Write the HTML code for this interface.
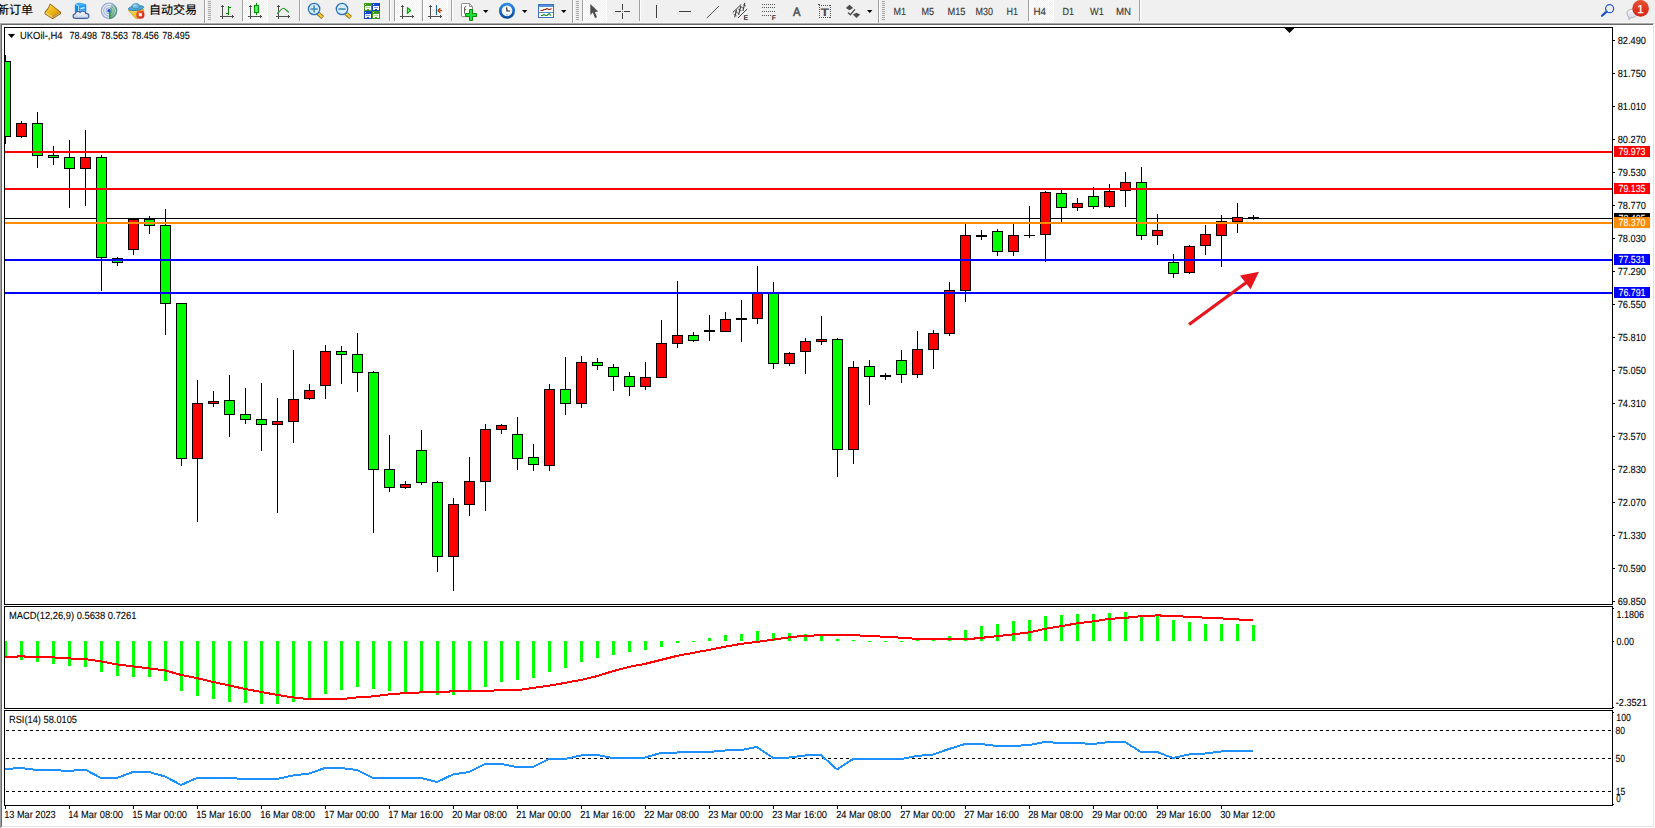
<!DOCTYPE html>
<html><head><meta charset="utf-8"><title>UKOil-,H4</title>
<style>html,body{margin:0;padding:0;background:#fff;overflow:hidden}body{width:1655px;height:828px;position:relative;font-family:"Liberation Sans","Noto Sans CJK SC",sans-serif}</style>
</head><body>
<svg width="1655" height="828" viewBox="0 0 1655 828" text-rendering="geometricPrecision" style="position:absolute;left:0;top:0">
<g shape-rendering="crispEdges">
<rect x="0" y="0" width="1655" height="828" fill="#fff"/>
<rect x="0" y="0" width="1655" height="23" fill="#f0f0f0"/>
<rect x="0" y="22" width="1655" height="1" fill="#f6f6f6"/>
<rect x="0" y="23" width="1655" height="1" fill="#a9a9a9"/>
<rect x="0" y="24" width="1655" height="1" fill="#696969"/>
<rect x="1653" y="24" width="1" height="803" fill="#e3e3e3"/><rect x="1654" y="23" width="1" height="805" fill="#fff"/>
<rect x="2" y="826" width="1652" height="1" fill="#e3e3e3"/>
<rect x="4" y="27" width="1609" height="1" fill="#000"/>
<rect x="4" y="604" width="1609" height="1" fill="#000"/>
<rect x="4" y="27" width="1" height="779" fill="#000"/>
<rect x="1612" y="27" width="1" height="779" fill="#000"/>
<rect x="4" y="606" width="1609" height="1" fill="#000"/>
<rect x="4" y="708" width="1609" height="1" fill="#000"/>
<rect x="4" y="710" width="1609" height="1" fill="#000"/>
<rect x="4" y="805" width="1609" height="1" fill="#000"/>
<rect x="5" y="218" width="1607" height="1" fill="#000"/>
<rect x="1613" y="40" width="2" height="1" fill="#000"/>
<rect x="1613" y="73" width="2" height="1" fill="#000"/>
<rect x="1613" y="106" width="2" height="1" fill="#000"/>
<rect x="1613" y="139" width="2" height="1" fill="#000"/>
<rect x="1613" y="172" width="2" height="1" fill="#000"/>
<rect x="1613" y="205" width="2" height="1" fill="#000"/>
<rect x="1613" y="238" width="2" height="1" fill="#000"/>
<rect x="1613" y="271" width="2" height="1" fill="#000"/>
<rect x="1613" y="304" width="2" height="1" fill="#000"/>
<rect x="1613" y="337" width="2" height="1" fill="#000"/>
<rect x="1613" y="370" width="2" height="1" fill="#000"/>
<rect x="1613" y="403" width="2" height="1" fill="#000"/>
<rect x="1613" y="436" width="2" height="1" fill="#000"/>
<rect x="1613" y="469" width="2" height="1" fill="#000"/>
<rect x="1613" y="502" width="2" height="1" fill="#000"/>
<rect x="1613" y="535" width="2" height="1" fill="#000"/>
<rect x="1613" y="568" width="2" height="1" fill="#000"/>
<rect x="1613" y="601" width="2" height="1" fill="#000"/>
<rect x="1613" y="608" width="1" height="1" fill="#000"/>
<rect x="1613" y="641" width="1" height="1" fill="#000"/>
<rect x="1613" y="707" width="1" height="1" fill="#000"/>
<rect x="1613" y="712" width="1" height="1" fill="#000"/>
<rect x="1613" y="804" width="1" height="1" fill="#000"/>
<rect x="5" y="55" width="1" height="89" fill="#000"/>
<rect x="0" y="61" width="11" height="76" fill="#000"/>
<rect x="1" y="62" width="9" height="74" fill="#00ff00"/>
<rect x="21" y="121" width="1" height="17" fill="#000"/>
<rect x="16" y="123" width="11" height="14" fill="#000"/>
<rect x="17" y="124" width="9" height="12" fill="#ff0000"/>
<rect x="37" y="112" width="1" height="56" fill="#000"/>
<rect x="32" y="123" width="11" height="33" fill="#000"/>
<rect x="33" y="124" width="9" height="31" fill="#00ff00"/>
<rect x="53" y="146" width="1" height="19" fill="#000"/>
<rect x="48" y="155" width="11" height="3" fill="#000"/>
<rect x="49" y="156" width="9" height="1" fill="#00ff00"/>
<rect x="69" y="140" width="1" height="68" fill="#000"/>
<rect x="64" y="157" width="11" height="12" fill="#000"/>
<rect x="65" y="158" width="9" height="10" fill="#00ff00"/>
<rect x="85" y="130" width="1" height="76" fill="#000"/>
<rect x="80" y="157" width="11" height="12" fill="#000"/>
<rect x="81" y="158" width="9" height="10" fill="#ff0000"/>
<rect x="101" y="155" width="1" height="136" fill="#000"/>
<rect x="96" y="157" width="11" height="101" fill="#000"/>
<rect x="97" y="158" width="9" height="99" fill="#00ff00"/>
<rect x="117" y="257" width="1" height="9" fill="#000"/>
<rect x="112" y="258" width="11" height="5" fill="#000"/>
<rect x="113" y="259" width="9" height="3" fill="#00ff00"/>
<rect x="133" y="219" width="1" height="36" fill="#000"/>
<rect x="128" y="219" width="11" height="31" fill="#000"/>
<rect x="129" y="220" width="9" height="29" fill="#ff0000"/>
<rect x="149" y="216" width="1" height="18" fill="#000"/>
<rect x="144" y="219" width="11" height="7" fill="#000"/>
<rect x="145" y="220" width="9" height="5" fill="#00ff00"/>
<rect x="165" y="209" width="1" height="126" fill="#000"/>
<rect x="160" y="225" width="11" height="79" fill="#000"/>
<rect x="161" y="226" width="9" height="77" fill="#00ff00"/>
<rect x="181" y="303" width="1" height="163" fill="#000"/>
<rect x="176" y="303" width="11" height="156" fill="#000"/>
<rect x="177" y="304" width="9" height="154" fill="#00ff00"/>
<rect x="197" y="380" width="1" height="142" fill="#000"/>
<rect x="192" y="403" width="11" height="56" fill="#000"/>
<rect x="193" y="404" width="9" height="54" fill="#ff0000"/>
<rect x="213" y="391" width="1" height="16" fill="#000"/>
<rect x="208" y="401" width="11" height="3" fill="#000"/>
<rect x="209" y="402" width="9" height="1" fill="#ff0000"/>
<rect x="229" y="375" width="1" height="62" fill="#000"/>
<rect x="224" y="400" width="11" height="15" fill="#000"/>
<rect x="225" y="401" width="9" height="13" fill="#00ff00"/>
<rect x="245" y="388" width="1" height="36" fill="#000"/>
<rect x="240" y="414" width="11" height="6" fill="#000"/>
<rect x="241" y="415" width="9" height="4" fill="#00ff00"/>
<rect x="261" y="383" width="1" height="68" fill="#000"/>
<rect x="256" y="419" width="11" height="6" fill="#000"/>
<rect x="257" y="420" width="9" height="4" fill="#00ff00"/>
<rect x="277" y="398" width="1" height="115" fill="#000"/>
<rect x="272" y="421" width="11" height="4" fill="#000"/>
<rect x="273" y="422" width="9" height="2" fill="#ff0000"/>
<rect x="293" y="350" width="1" height="93" fill="#000"/>
<rect x="288" y="399" width="11" height="23" fill="#000"/>
<rect x="289" y="400" width="9" height="21" fill="#ff0000"/>
<rect x="309" y="384" width="1" height="16" fill="#000"/>
<rect x="304" y="390" width="11" height="9" fill="#000"/>
<rect x="305" y="391" width="9" height="7" fill="#ff0000"/>
<rect x="325" y="345" width="1" height="54" fill="#000"/>
<rect x="320" y="351" width="11" height="35" fill="#000"/>
<rect x="321" y="352" width="9" height="33" fill="#ff0000"/>
<rect x="341" y="346" width="1" height="38" fill="#000"/>
<rect x="336" y="351" width="11" height="4" fill="#000"/>
<rect x="337" y="352" width="9" height="2" fill="#00ff00"/>
<rect x="357" y="333" width="1" height="59" fill="#000"/>
<rect x="352" y="354" width="11" height="19" fill="#000"/>
<rect x="353" y="355" width="9" height="17" fill="#00ff00"/>
<rect x="373" y="371" width="1" height="162" fill="#000"/>
<rect x="368" y="372" width="11" height="98" fill="#000"/>
<rect x="369" y="373" width="9" height="96" fill="#00ff00"/>
<rect x="389" y="435" width="1" height="57" fill="#000"/>
<rect x="384" y="469" width="11" height="19" fill="#000"/>
<rect x="385" y="470" width="9" height="17" fill="#00ff00"/>
<rect x="405" y="481" width="1" height="8" fill="#000"/>
<rect x="400" y="484" width="11" height="4" fill="#000"/>
<rect x="401" y="485" width="9" height="2" fill="#ff0000"/>
<rect x="421" y="430" width="1" height="55" fill="#000"/>
<rect x="416" y="450" width="11" height="33" fill="#000"/>
<rect x="417" y="451" width="9" height="31" fill="#00ff00"/>
<rect x="437" y="481" width="1" height="91" fill="#000"/>
<rect x="432" y="482" width="11" height="75" fill="#000"/>
<rect x="433" y="483" width="9" height="73" fill="#00ff00"/>
<rect x="453" y="498" width="1" height="93" fill="#000"/>
<rect x="448" y="504" width="11" height="53" fill="#000"/>
<rect x="449" y="505" width="9" height="51" fill="#ff0000"/>
<rect x="469" y="457" width="1" height="59" fill="#000"/>
<rect x="464" y="481" width="11" height="24" fill="#000"/>
<rect x="465" y="482" width="9" height="22" fill="#ff0000"/>
<rect x="485" y="424" width="1" height="87" fill="#000"/>
<rect x="480" y="429" width="11" height="53" fill="#000"/>
<rect x="481" y="430" width="9" height="51" fill="#ff0000"/>
<rect x="501" y="424" width="1" height="10" fill="#000"/>
<rect x="496" y="425" width="11" height="5" fill="#000"/>
<rect x="497" y="426" width="9" height="3" fill="#ff0000"/>
<rect x="517" y="417" width="1" height="53" fill="#000"/>
<rect x="512" y="434" width="11" height="25" fill="#000"/>
<rect x="513" y="435" width="9" height="23" fill="#00ff00"/>
<rect x="533" y="444" width="1" height="27" fill="#000"/>
<rect x="528" y="457" width="11" height="8" fill="#000"/>
<rect x="529" y="458" width="9" height="6" fill="#00ff00"/>
<rect x="549" y="384" width="1" height="87" fill="#000"/>
<rect x="544" y="389" width="11" height="77" fill="#000"/>
<rect x="545" y="390" width="9" height="75" fill="#ff0000"/>
<rect x="565" y="357" width="1" height="58" fill="#000"/>
<rect x="560" y="389" width="11" height="15" fill="#000"/>
<rect x="561" y="390" width="9" height="13" fill="#00ff00"/>
<rect x="581" y="356" width="1" height="52" fill="#000"/>
<rect x="576" y="362" width="11" height="42" fill="#000"/>
<rect x="577" y="363" width="9" height="40" fill="#ff0000"/>
<rect x="597" y="358" width="1" height="12" fill="#000"/>
<rect x="592" y="362" width="11" height="4" fill="#000"/>
<rect x="593" y="363" width="9" height="2" fill="#00ff00"/>
<rect x="613" y="364" width="1" height="27" fill="#000"/>
<rect x="608" y="367" width="11" height="10" fill="#000"/>
<rect x="609" y="368" width="9" height="8" fill="#00ff00"/>
<rect x="629" y="372" width="1" height="24" fill="#000"/>
<rect x="624" y="376" width="11" height="11" fill="#000"/>
<rect x="625" y="377" width="9" height="9" fill="#00ff00"/>
<rect x="645" y="362" width="1" height="28" fill="#000"/>
<rect x="640" y="377" width="11" height="10" fill="#000"/>
<rect x="641" y="378" width="9" height="8" fill="#ff0000"/>
<rect x="661" y="320" width="1" height="58" fill="#000"/>
<rect x="656" y="343" width="11" height="35" fill="#000"/>
<rect x="657" y="344" width="9" height="33" fill="#ff0000"/>
<rect x="677" y="281" width="1" height="67" fill="#000"/>
<rect x="672" y="335" width="11" height="9" fill="#000"/>
<rect x="673" y="336" width="9" height="7" fill="#ff0000"/>
<rect x="693" y="332" width="1" height="10" fill="#000"/>
<rect x="688" y="335" width="11" height="6" fill="#000"/>
<rect x="689" y="336" width="9" height="4" fill="#00ff00"/>
<rect x="709" y="315" width="1" height="26" fill="#000"/>
<rect x="704" y="330" width="11" height="2" fill="#000"/>
<rect x="725" y="312" width="1" height="20" fill="#000"/>
<rect x="720" y="319" width="11" height="13" fill="#000"/>
<rect x="721" y="320" width="9" height="11" fill="#ff0000"/>
<rect x="741" y="300" width="1" height="42" fill="#000"/>
<rect x="736" y="318" width="11" height="2" fill="#000"/>
<rect x="757" y="266" width="1" height="58" fill="#000"/>
<rect x="752" y="293" width="11" height="26" fill="#000"/>
<rect x="753" y="294" width="9" height="24" fill="#ff0000"/>
<rect x="773" y="282" width="1" height="87" fill="#000"/>
<rect x="768" y="293" width="11" height="71" fill="#000"/>
<rect x="769" y="294" width="9" height="69" fill="#00ff00"/>
<rect x="789" y="352" width="1" height="14" fill="#000"/>
<rect x="784" y="353" width="11" height="11" fill="#000"/>
<rect x="785" y="354" width="9" height="9" fill="#ff0000"/>
<rect x="805" y="338" width="1" height="36" fill="#000"/>
<rect x="800" y="341" width="11" height="11" fill="#000"/>
<rect x="801" y="342" width="9" height="9" fill="#ff0000"/>
<rect x="821" y="316" width="1" height="29" fill="#000"/>
<rect x="816" y="339" width="11" height="3" fill="#000"/>
<rect x="817" y="340" width="9" height="1" fill="#ff0000"/>
<rect x="837" y="338" width="1" height="139" fill="#000"/>
<rect x="832" y="339" width="11" height="111" fill="#000"/>
<rect x="833" y="340" width="9" height="109" fill="#00ff00"/>
<rect x="853" y="361" width="1" height="103" fill="#000"/>
<rect x="848" y="367" width="11" height="83" fill="#000"/>
<rect x="849" y="368" width="9" height="81" fill="#ff0000"/>
<rect x="869" y="360" width="1" height="45" fill="#000"/>
<rect x="864" y="366" width="11" height="11" fill="#000"/>
<rect x="865" y="367" width="9" height="9" fill="#00ff00"/>
<rect x="885" y="373" width="1" height="7" fill="#000"/>
<rect x="880" y="375" width="11" height="2" fill="#000"/>
<rect x="901" y="350" width="1" height="33" fill="#000"/>
<rect x="896" y="360" width="11" height="15" fill="#000"/>
<rect x="897" y="361" width="9" height="13" fill="#00ff00"/>
<rect x="917" y="331" width="1" height="47" fill="#000"/>
<rect x="912" y="349" width="11" height="26" fill="#000"/>
<rect x="913" y="350" width="9" height="24" fill="#ff0000"/>
<rect x="933" y="330" width="1" height="39" fill="#000"/>
<rect x="928" y="333" width="11" height="17" fill="#000"/>
<rect x="929" y="334" width="9" height="15" fill="#ff0000"/>
<rect x="949" y="282" width="1" height="54" fill="#000"/>
<rect x="944" y="290" width="11" height="44" fill="#000"/>
<rect x="945" y="291" width="9" height="42" fill="#ff0000"/>
<rect x="965" y="224" width="1" height="78" fill="#000"/>
<rect x="960" y="235" width="11" height="56" fill="#000"/>
<rect x="961" y="236" width="9" height="54" fill="#ff0000"/>
<rect x="981" y="230" width="1" height="10" fill="#000"/>
<rect x="976" y="235" width="11" height="2" fill="#000"/>
<rect x="997" y="229" width="1" height="27" fill="#000"/>
<rect x="992" y="231" width="11" height="21" fill="#000"/>
<rect x="993" y="232" width="9" height="19" fill="#00ff00"/>
<rect x="1013" y="224" width="1" height="32" fill="#000"/>
<rect x="1008" y="235" width="11" height="17" fill="#000"/>
<rect x="1009" y="236" width="9" height="15" fill="#ff0000"/>
<rect x="1029" y="206" width="1" height="32" fill="#000"/>
<rect x="1024" y="235" width="11" height="1" fill="#000"/>
<rect x="1045" y="191" width="1" height="71" fill="#000"/>
<rect x="1040" y="192" width="11" height="43" fill="#000"/>
<rect x="1041" y="193" width="9" height="41" fill="#ff0000"/>
<rect x="1061" y="190" width="1" height="32" fill="#000"/>
<rect x="1056" y="193" width="11" height="15" fill="#000"/>
<rect x="1057" y="194" width="9" height="13" fill="#00ff00"/>
<rect x="1077" y="198" width="1" height="13" fill="#000"/>
<rect x="1072" y="203" width="11" height="5" fill="#000"/>
<rect x="1073" y="204" width="9" height="3" fill="#ff0000"/>
<rect x="1093" y="187" width="1" height="22" fill="#000"/>
<rect x="1088" y="196" width="11" height="11" fill="#000"/>
<rect x="1089" y="197" width="9" height="9" fill="#00ff00"/>
<rect x="1109" y="184" width="1" height="24" fill="#000"/>
<rect x="1104" y="191" width="11" height="16" fill="#000"/>
<rect x="1105" y="192" width="9" height="14" fill="#ff0000"/>
<rect x="1125" y="172" width="1" height="35" fill="#000"/>
<rect x="1120" y="182" width="11" height="9" fill="#000"/>
<rect x="1121" y="183" width="9" height="7" fill="#ff0000"/>
<rect x="1141" y="167" width="1" height="73" fill="#000"/>
<rect x="1136" y="182" width="11" height="54" fill="#000"/>
<rect x="1137" y="183" width="9" height="52" fill="#00ff00"/>
<rect x="1157" y="214" width="1" height="31" fill="#000"/>
<rect x="1152" y="230" width="11" height="6" fill="#000"/>
<rect x="1153" y="231" width="9" height="4" fill="#ff0000"/>
<rect x="1173" y="254" width="1" height="24" fill="#000"/>
<rect x="1168" y="262" width="11" height="12" fill="#000"/>
<rect x="1169" y="263" width="9" height="10" fill="#00ff00"/>
<rect x="1189" y="245" width="1" height="29" fill="#000"/>
<rect x="1184" y="246" width="11" height="27" fill="#000"/>
<rect x="1185" y="247" width="9" height="25" fill="#ff0000"/>
<rect x="1205" y="225" width="1" height="30" fill="#000"/>
<rect x="1200" y="234" width="11" height="12" fill="#000"/>
<rect x="1201" y="235" width="9" height="10" fill="#ff0000"/>
<rect x="1221" y="215" width="1" height="52" fill="#000"/>
<rect x="1216" y="221" width="11" height="15" fill="#000"/>
<rect x="1217" y="222" width="9" height="13" fill="#ff0000"/>
<rect x="1237" y="203" width="1" height="30" fill="#000"/>
<rect x="1232" y="217" width="11" height="5" fill="#000"/>
<rect x="1233" y="218" width="9" height="3" fill="#ff0000"/>
<rect x="1253" y="215" width="1" height="5" fill="#000"/>
<rect x="1248" y="217" width="11" height="2" fill="#000"/>
<rect x="0" y="23" width="1" height="805" fill="#a0a0a0"/>
<rect x="1" y="24" width="1" height="803" fill="#696969"/>
<rect x="2" y="25" width="2" height="801" fill="#fff"/>
<rect x="4" y="27" width="1" height="779" fill="#000"/>
<rect x="4" y="605" width="1609" height="1" fill="#fff"/>
<rect x="4" y="709" width="1609" height="1" fill="#fff"/>
<rect x="5" y="151" width="1607" height="2" fill="#ff0000"/>
<rect x="5" y="188" width="1607" height="2" fill="#ff0000"/>
<rect x="5" y="222" width="1607" height="2" fill="#ff8c00"/>
<rect x="5" y="259" width="1607" height="2" fill="#0000ff"/>
<rect x="5" y="292" width="1607" height="2" fill="#0000ff"/>
<rect x="1614" y="146" width="36" height="11" fill="#ff0000"/>
<rect x="1614" y="183" width="36" height="11" fill="#ff0000"/>
<rect x="1614" y="213" width="36" height="11" fill="#000"/>
<rect x="1614" y="217" width="36" height="11" fill="#ff8c00"/>
<rect x="1614" y="254" width="36" height="11" fill="#0000ff"/>
<rect x="1614" y="287" width="36" height="11" fill="#0000ff"/>
<rect x="4" y="641" width="3" height="16" fill="#00ff00"/>
<rect x="20" y="641" width="3" height="19" fill="#00ff00"/>
<rect x="36" y="641" width="3" height="21" fill="#00ff00"/>
<rect x="52" y="641" width="3" height="23" fill="#00ff00"/>
<rect x="68" y="641" width="3" height="25" fill="#00ff00"/>
<rect x="84" y="641" width="3" height="26" fill="#00ff00"/>
<rect x="100" y="641" width="3" height="31" fill="#00ff00"/>
<rect x="116" y="641" width="3" height="35" fill="#00ff00"/>
<rect x="132" y="641" width="3" height="36" fill="#00ff00"/>
<rect x="148" y="641" width="3" height="36" fill="#00ff00"/>
<rect x="164" y="641" width="3" height="40" fill="#00ff00"/>
<rect x="180" y="641" width="3" height="50" fill="#00ff00"/>
<rect x="196" y="641" width="3" height="55" fill="#00ff00"/>
<rect x="212" y="641" width="3" height="58" fill="#00ff00"/>
<rect x="228" y="641" width="3" height="61" fill="#00ff00"/>
<rect x="244" y="641" width="3" height="62" fill="#00ff00"/>
<rect x="260" y="641" width="3" height="63" fill="#00ff00"/>
<rect x="276" y="641" width="3" height="63" fill="#00ff00"/>
<rect x="292" y="641" width="3" height="61" fill="#00ff00"/>
<rect x="308" y="641" width="3" height="57" fill="#00ff00"/>
<rect x="324" y="641" width="3" height="53" fill="#00ff00"/>
<rect x="340" y="641" width="3" height="49" fill="#00ff00"/>
<rect x="356" y="641" width="3" height="46" fill="#00ff00"/>
<rect x="372" y="641" width="3" height="48" fill="#00ff00"/>
<rect x="388" y="641" width="3" height="50" fill="#00ff00"/>
<rect x="404" y="641" width="3" height="51" fill="#00ff00"/>
<rect x="420" y="641" width="3" height="51" fill="#00ff00"/>
<rect x="436" y="641" width="3" height="54" fill="#00ff00"/>
<rect x="452" y="641" width="3" height="54" fill="#00ff00"/>
<rect x="468" y="641" width="3" height="50" fill="#00ff00"/>
<rect x="484" y="641" width="3" height="46" fill="#00ff00"/>
<rect x="500" y="641" width="3" height="41" fill="#00ff00"/>
<rect x="516" y="641" width="3" height="39" fill="#00ff00"/>
<rect x="532" y="641" width="3" height="37" fill="#00ff00"/>
<rect x="548" y="641" width="3" height="31" fill="#00ff00"/>
<rect x="564" y="641" width="3" height="27" fill="#00ff00"/>
<rect x="580" y="641" width="3" height="21" fill="#00ff00"/>
<rect x="596" y="641" width="3" height="17" fill="#00ff00"/>
<rect x="612" y="641" width="3" height="14" fill="#00ff00"/>
<rect x="628" y="641" width="3" height="11" fill="#00ff00"/>
<rect x="644" y="641" width="3" height="9" fill="#00ff00"/>
<rect x="660" y="641" width="3" height="6" fill="#00ff00"/>
<rect x="676" y="641" width="3" height="2" fill="#00ff00"/>
<rect x="692" y="641" width="3" height="1" fill="#00ff00"/>
<rect x="708" y="638" width="3" height="3" fill="#00ff00"/>
<rect x="724" y="635" width="3" height="6" fill="#00ff00"/>
<rect x="740" y="634" width="3" height="7" fill="#00ff00"/>
<rect x="756" y="631" width="3" height="10" fill="#00ff00"/>
<rect x="772" y="633" width="3" height="8" fill="#00ff00"/>
<rect x="788" y="633" width="3" height="8" fill="#00ff00"/>
<rect x="804" y="634" width="3" height="7" fill="#00ff00"/>
<rect x="820" y="636" width="3" height="5" fill="#00ff00"/>
<rect x="836" y="639" width="3" height="2" fill="#00ff00"/>
<rect x="852" y="640" width="3" height="1" fill="#00ff00"/>
<rect x="868" y="641" width="3" height="1" fill="#00ff00"/>
<rect x="884" y="641" width="3" height="1" fill="#00ff00"/>
<rect x="900" y="641" width="3" height="1" fill="#00ff00"/>
<rect x="916" y="640" width="3" height="1" fill="#00ff00"/>
<rect x="932" y="640" width="3" height="1" fill="#00ff00"/>
<rect x="948" y="636" width="3" height="5" fill="#00ff00"/>
<rect x="964" y="630" width="3" height="11" fill="#00ff00"/>
<rect x="980" y="626" width="3" height="15" fill="#00ff00"/>
<rect x="996" y="624" width="3" height="17" fill="#00ff00"/>
<rect x="1012" y="621" width="3" height="20" fill="#00ff00"/>
<rect x="1028" y="620" width="3" height="21" fill="#00ff00"/>
<rect x="1044" y="616" width="3" height="25" fill="#00ff00"/>
<rect x="1060" y="615" width="3" height="26" fill="#00ff00"/>
<rect x="1076" y="614" width="3" height="27" fill="#00ff00"/>
<rect x="1092" y="614" width="3" height="27" fill="#00ff00"/>
<rect x="1108" y="613" width="3" height="28" fill="#00ff00"/>
<rect x="1124" y="612" width="3" height="29" fill="#00ff00"/>
<rect x="1140" y="615" width="3" height="26" fill="#00ff00"/>
<rect x="1156" y="615" width="3" height="26" fill="#00ff00"/>
<rect x="1172" y="620" width="3" height="21" fill="#00ff00"/>
<rect x="1188" y="622" width="3" height="19" fill="#00ff00"/>
<rect x="1204" y="624" width="3" height="17" fill="#00ff00"/>
<rect x="1220" y="624" width="3" height="17" fill="#00ff00"/>
<rect x="1236" y="624" width="3" height="17" fill="#00ff00"/>
<rect x="1252" y="625" width="3" height="16" fill="#00ff00"/>
<line x1="6" y1="730.5" x2="1612" y2="730.5" stroke="#000" stroke-width="1" stroke-dasharray="3,3"/>
<line x1="6" y1="758.5" x2="1612" y2="758.5" stroke="#000" stroke-width="1" stroke-dasharray="3,3"/>
<line x1="6" y1="791.5" x2="1612" y2="791.5" stroke="#000" stroke-width="1" stroke-dasharray="3,3"/>
<rect x="5" y="805" width="1" height="4" fill="#000"/>
<rect x="69" y="805" width="1" height="4" fill="#000"/>
<rect x="133" y="805" width="1" height="4" fill="#000"/>
<rect x="197" y="805" width="1" height="4" fill="#000"/>
<rect x="261" y="805" width="1" height="4" fill="#000"/>
<rect x="325" y="805" width="1" height="4" fill="#000"/>
<rect x="389" y="805" width="1" height="4" fill="#000"/>
<rect x="453" y="805" width="1" height="4" fill="#000"/>
<rect x="517" y="805" width="1" height="4" fill="#000"/>
<rect x="581" y="805" width="1" height="4" fill="#000"/>
<rect x="645" y="805" width="1" height="4" fill="#000"/>
<rect x="709" y="805" width="1" height="4" fill="#000"/>
<rect x="773" y="805" width="1" height="4" fill="#000"/>
<rect x="837" y="805" width="1" height="4" fill="#000"/>
<rect x="901" y="805" width="1" height="4" fill="#000"/>
<rect x="965" y="805" width="1" height="4" fill="#000"/>
<rect x="1029" y="805" width="1" height="4" fill="#000"/>
<rect x="1093" y="805" width="1" height="4" fill="#000"/>
<rect x="1157" y="805" width="1" height="4" fill="#000"/>
<rect x="1221" y="805" width="1" height="4" fill="#000"/>
<polygon points="1284.5,28 1294.5,28 1289.5,33" fill="#000" shape-rendering="auto"/>
</g>
<polyline points="5,656.9 21,656.4 37,656.9 53,657.4 69,658.4 85,659.15 101,661.4 117,664.4 133,666.4 149,668.4 165,670.4 181,674.9 197,678.15 213,681.9 229,685.4 245,688.9 261,691.9 277,694.9 293,697.4 309,699.15 325,699.15 341,699.15 357,697.4 373,696.4 389,694.4 405,693.15 421,692.4 437,691.9 453,691.4 469,691.15 485,690.65 501,690.4 517,690.15 533,687.9 549,685.65 565,682.9 581,679.9 597,676.15 613,671.15 629,666.9 645,663.9 661,659.9 677,655.9 693,652.9 709,649.9 725,646.65 741,643.9 757,641.9 773,639.65 789,637.4 805,635.65 821,635.4 837,635.4 853,635.4 869,635.65 885,636.9 901,637.65 917,638.9 933,639.4 949,639.4 965,639.4 981,637.9 997,636.15 1013,634.4 1029,632.4 1045,628.9 1061,626.15 1077,623.4 1093,621.4 1109,618.9 1125,617.9 1141,616.15 1157,615.4 1173,615.9 1189,616.9 1205,617.65 1221,618.4 1237,619.4 1253,620.4" fill="none" stroke="#ff0000" stroke-width="2" stroke-linejoin="round" shape-rendering="crispEdges"/>
<polyline points="5,769 21,768 37,770 53,770 69,771 85,769.5 101,778 117,778 133,772 149,772 165,776.5 181,785 197,778 213,778 229,778 245,779 261,779 277,779 293,775.5 309,773.5 325,768 341,768 357,770 373,778 389,778 405,778 421,778 437,782 453,774.5 469,772 485,764 501,764 517,767 533,767 549,759 565,759 581,755.5 597,755 613,758 629,758 645,757.5 661,753 677,752.5 693,752 709,752 725,750.5 741,750 757,747 773,758 789,757.5 805,755.5 821,755 837,769.5 853,759 869,759 885,759 901,759 917,756 933,754.5 949,749 965,744 981,744 997,746 1013,746 1029,745 1045,742 1061,743 1077,743 1093,744 1109,742 1125,742 1141,752 1157,752 1173,758 1189,754.5 1205,753.5 1221,751.5 1237,751 1253,751" fill="none" stroke="#1e90ff" stroke-width="2" stroke-linejoin="round" shape-rendering="crispEdges"/>
<line x1="1189" y1="324.5" x2="1247" y2="282" stroke="#e8141e" stroke-width="3.2"/>
<polygon points="1259,271.7 1240,275.4 1250.6,289.2" fill="#e8141e"/>
<g shape-rendering="crispEdges"><rect x="2" y="25" width="2" height="801" fill="#fff"/><rect x="4" y="27" width="1" height="578" fill="#000"/><rect x="4" y="606" width="1" height="103" fill="#000"/><rect x="4" y="710" width="1" height="96" fill="#000"/></g>
<g font-family="'Liberation Sans',sans-serif" stroke="#000" stroke-width="0.1" paint-order="stroke">
<polygon points="8,34 15,34 11.5,38" fill="#000"/>
<text x="20" y="39" font-size="10.3" fill="#000" text-anchor="start" textLength="42.5" lengthAdjust="spacingAndGlyphs" >UKOil-,H4</text>
<text x="69.5" y="39" font-size="10.3" fill="#000" text-anchor="start" textLength="27.5" lengthAdjust="spacingAndGlyphs" >78.498</text>
<text x="100.5" y="39" font-size="10.3" fill="#000" text-anchor="start" textLength="27.5" lengthAdjust="spacingAndGlyphs" >78.563</text>
<text x="131.3" y="39" font-size="10.3" fill="#000" text-anchor="start" textLength="27.5" lengthAdjust="spacingAndGlyphs" >78.456</text>
<text x="162.3" y="39" font-size="10.3" fill="#000" text-anchor="start" textLength="27.5" lengthAdjust="spacingAndGlyphs" >78.495</text>
<text x="1617.7" y="44" font-size="10.3" fill="#000" text-anchor="start" textLength="28.3" lengthAdjust="spacingAndGlyphs" >82.490</text>
<text x="1617.7" y="77" font-size="10.3" fill="#000" text-anchor="start" textLength="28.3" lengthAdjust="spacingAndGlyphs" >81.750</text>
<text x="1617.7" y="110" font-size="10.3" fill="#000" text-anchor="start" textLength="28.3" lengthAdjust="spacingAndGlyphs" >81.010</text>
<text x="1617.7" y="143" font-size="10.3" fill="#000" text-anchor="start" textLength="28.3" lengthAdjust="spacingAndGlyphs" >80.270</text>
<text x="1617.7" y="176" font-size="10.3" fill="#000" text-anchor="start" textLength="28.3" lengthAdjust="spacingAndGlyphs" >79.530</text>
<text x="1617.7" y="209" font-size="10.3" fill="#000" text-anchor="start" textLength="28.3" lengthAdjust="spacingAndGlyphs" >78.770</text>
<text x="1617.7" y="242" font-size="10.3" fill="#000" text-anchor="start" textLength="28.3" lengthAdjust="spacingAndGlyphs" >78.030</text>
<text x="1617.7" y="275" font-size="10.3" fill="#000" text-anchor="start" textLength="28.3" lengthAdjust="spacingAndGlyphs" >77.290</text>
<text x="1617.7" y="308" font-size="10.3" fill="#000" text-anchor="start" textLength="28.3" lengthAdjust="spacingAndGlyphs" >76.550</text>
<text x="1617.7" y="341" font-size="10.3" fill="#000" text-anchor="start" textLength="28.3" lengthAdjust="spacingAndGlyphs" >75.810</text>
<text x="1617.7" y="374" font-size="10.3" fill="#000" text-anchor="start" textLength="28.3" lengthAdjust="spacingAndGlyphs" >75.050</text>
<text x="1617.7" y="407" font-size="10.3" fill="#000" text-anchor="start" textLength="28.3" lengthAdjust="spacingAndGlyphs" >74.310</text>
<text x="1617.7" y="440" font-size="10.3" fill="#000" text-anchor="start" textLength="28.3" lengthAdjust="spacingAndGlyphs" >73.570</text>
<text x="1617.7" y="473" font-size="10.3" fill="#000" text-anchor="start" textLength="28.3" lengthAdjust="spacingAndGlyphs" >72.830</text>
<text x="1617.7" y="506" font-size="10.3" fill="#000" text-anchor="start" textLength="28.3" lengthAdjust="spacingAndGlyphs" >72.070</text>
<text x="1617.7" y="539" font-size="10.3" fill="#000" text-anchor="start" textLength="28.3" lengthAdjust="spacingAndGlyphs" >71.330</text>
<text x="1617.7" y="572" font-size="10.3" fill="#000" text-anchor="start" textLength="28.3" lengthAdjust="spacingAndGlyphs" >70.590</text>
<text x="1617.7" y="605" font-size="10.3" fill="#000" text-anchor="start" textLength="28.3" lengthAdjust="spacingAndGlyphs" >69.850</text>
<text x="1618.5" y="155" font-size="10.3" fill="#fff" text-anchor="start" textLength="27" lengthAdjust="spacingAndGlyphs" stroke="#fff">79.973</text>
<text x="1618.5" y="192" font-size="10.3" fill="#fff" text-anchor="start" textLength="27" lengthAdjust="spacingAndGlyphs" stroke="#fff">79.135</text>
<text x="1618.5" y="222" font-size="10.3" fill="#fff" text-anchor="start" textLength="27" lengthAdjust="spacingAndGlyphs" stroke="#fff">78.495</text>
<rect x="1614" y="217" width="36" height="11" fill="#ff8c00"/>
<text x="1618.5" y="226" font-size="10.3" fill="#fff" text-anchor="start" textLength="27" lengthAdjust="spacingAndGlyphs" stroke="#fff">78.370</text>
<text x="1618.5" y="263" font-size="10.3" fill="#fff" text-anchor="start" textLength="27" lengthAdjust="spacingAndGlyphs" stroke="#fff">77.531</text>
<text x="1618.5" y="296" font-size="10.3" fill="#fff" text-anchor="start" textLength="27" lengthAdjust="spacingAndGlyphs" stroke="#fff">76.791</text>
<text x="9" y="619" font-size="10.3" fill="#000" text-anchor="start" textLength="127.5" lengthAdjust="spacingAndGlyphs" >MACD(12,26,9) 0.5638 0.7261</text>
<text x="1616.5" y="617.5" font-size="10.3" fill="#000" text-anchor="start" textLength="27.5" lengthAdjust="spacingAndGlyphs" >1.1806</text>
<text x="1616.5" y="645" font-size="10.3" fill="#000" text-anchor="start" textLength="17.5" lengthAdjust="spacingAndGlyphs" >0.00</text>
<text x="1615.8" y="705.5" font-size="10.3" fill="#000" text-anchor="start" textLength="31" lengthAdjust="spacingAndGlyphs" >-2.3521</text>
<text x="9" y="723" font-size="10.3" fill="#000" text-anchor="start" textLength="68" lengthAdjust="spacingAndGlyphs" >RSI(14) 58.0105</text>
<text x="1616.3" y="721" font-size="10.3" fill="#000" text-anchor="start" textLength="14.5" lengthAdjust="spacingAndGlyphs" >100</text>
<text x="1615.5" y="734" font-size="10.3" fill="#000" text-anchor="start" textLength="9.5" lengthAdjust="spacingAndGlyphs" >80</text>
<text x="1615.5" y="762" font-size="10.3" fill="#000" text-anchor="start" textLength="9.5" lengthAdjust="spacingAndGlyphs" >50</text>
<text x="1615.8" y="795" font-size="10.3" fill="#000" text-anchor="start" textLength="9.5" lengthAdjust="spacingAndGlyphs" >15</text>
<text x="1616.3" y="802" font-size="10.3" fill="#000" text-anchor="start" textLength="4.5" lengthAdjust="spacingAndGlyphs" >0</text>
<text x="4.2" y="818" font-size="10.3" fill="#000" text-anchor="start" textLength="51.5" lengthAdjust="spacingAndGlyphs" >13 Mar 2023</text>
<text x="68.2" y="818" font-size="10.3" fill="#000" text-anchor="start" textLength="54.8" lengthAdjust="spacingAndGlyphs" >14 Mar 08:00</text>
<text x="132.2" y="818" font-size="10.3" fill="#000" text-anchor="start" textLength="54.8" lengthAdjust="spacingAndGlyphs" >15 Mar 00:00</text>
<text x="196.2" y="818" font-size="10.3" fill="#000" text-anchor="start" textLength="54.8" lengthAdjust="spacingAndGlyphs" >15 Mar 16:00</text>
<text x="260.2" y="818" font-size="10.3" fill="#000" text-anchor="start" textLength="54.8" lengthAdjust="spacingAndGlyphs" >16 Mar 08:00</text>
<text x="324.2" y="818" font-size="10.3" fill="#000" text-anchor="start" textLength="54.8" lengthAdjust="spacingAndGlyphs" >17 Mar 00:00</text>
<text x="388.2" y="818" font-size="10.3" fill="#000" text-anchor="start" textLength="54.8" lengthAdjust="spacingAndGlyphs" >17 Mar 16:00</text>
<text x="452.2" y="818" font-size="10.3" fill="#000" text-anchor="start" textLength="54.8" lengthAdjust="spacingAndGlyphs" >20 Mar 08:00</text>
<text x="516.2" y="818" font-size="10.3" fill="#000" text-anchor="start" textLength="54.8" lengthAdjust="spacingAndGlyphs" >21 Mar 00:00</text>
<text x="580.2" y="818" font-size="10.3" fill="#000" text-anchor="start" textLength="54.8" lengthAdjust="spacingAndGlyphs" >21 Mar 16:00</text>
<text x="644.2" y="818" font-size="10.3" fill="#000" text-anchor="start" textLength="54.8" lengthAdjust="spacingAndGlyphs" >22 Mar 08:00</text>
<text x="708.2" y="818" font-size="10.3" fill="#000" text-anchor="start" textLength="54.8" lengthAdjust="spacingAndGlyphs" >23 Mar 00:00</text>
<text x="772.2" y="818" font-size="10.3" fill="#000" text-anchor="start" textLength="54.8" lengthAdjust="spacingAndGlyphs" >23 Mar 16:00</text>
<text x="836.2" y="818" font-size="10.3" fill="#000" text-anchor="start" textLength="54.8" lengthAdjust="spacingAndGlyphs" >24 Mar 08:00</text>
<text x="900.2" y="818" font-size="10.3" fill="#000" text-anchor="start" textLength="54.8" lengthAdjust="spacingAndGlyphs" >27 Mar 00:00</text>
<text x="964.2" y="818" font-size="10.3" fill="#000" text-anchor="start" textLength="54.8" lengthAdjust="spacingAndGlyphs" >27 Mar 16:00</text>
<text x="1028.2" y="818" font-size="10.3" fill="#000" text-anchor="start" textLength="54.8" lengthAdjust="spacingAndGlyphs" >28 Mar 08:00</text>
<text x="1092.2" y="818" font-size="10.3" fill="#000" text-anchor="start" textLength="54.8" lengthAdjust="spacingAndGlyphs" >29 Mar 00:00</text>
<text x="1156.2" y="818" font-size="10.3" fill="#000" text-anchor="start" textLength="54.8" lengthAdjust="spacingAndGlyphs" >29 Mar 16:00</text>
<text x="1220.2" y="818" font-size="10.3" fill="#000" text-anchor="start" textLength="54.8" lengthAdjust="spacingAndGlyphs" >30 Mar 12:00</text>
</g>
<defs><pattern id="chk" width="2" height="2" patternUnits="userSpaceOnUse"><rect width="2" height="2" fill="#f0f0f0"/><rect width="1" height="1" fill="#fff"/><rect x="1" y="1" width="1" height="1" fill="#fff"/></pattern></defs>
<g shape-rendering="crispEdges">
<rect x="243" y="0" width="25" height="22" fill="#ffffff"/><rect x="243" y="0" width="24" height="21" fill="url(#chk)"/>
<rect x="395" y="0" width="25" height="22" fill="#ffffff"/><rect x="395" y="0" width="24" height="21" fill="url(#chk)"/>
<rect x="423" y="0" width="25" height="22" fill="#ffffff"/><rect x="423" y="0" width="24" height="21" fill="url(#chk)"/>
<rect x="583" y="0" width="24" height="22" fill="#ffffff"/><rect x="583" y="0" width="23" height="21" fill="url(#chk)"/>
<rect x="1029" y="0" width="25" height="22" fill="#ffffff"/><rect x="1029" y="0" width="24" height="21" fill="url(#chk)"/>
<rect x="204" y="0" width="1" height="23" fill="#a0a0a0"/><rect x="205" y="0" width="1" height="23" fill="#fdfdfd"/>
<rect x="208" y="1" width="3" height="1" fill="#a6a6a6"/>
<rect x="208" y="3" width="3" height="1" fill="#a6a6a6"/>
<rect x="208" y="5" width="3" height="1" fill="#a6a6a6"/>
<rect x="208" y="7" width="3" height="1" fill="#a6a6a6"/>
<rect x="208" y="9" width="3" height="1" fill="#a6a6a6"/>
<rect x="208" y="11" width="3" height="1" fill="#a6a6a6"/>
<rect x="208" y="13" width="3" height="1" fill="#a6a6a6"/>
<rect x="208" y="15" width="3" height="1" fill="#a6a6a6"/>
<rect x="208" y="17" width="3" height="1" fill="#a6a6a6"/>
<rect x="208" y="19" width="3" height="1" fill="#a6a6a6"/>
<rect x="242" y="0" width="1" height="21" fill="#a0a0a0"/><rect x="243" y="0" width="1" height="21" fill="#fdfdfd"/>
<rect x="299" y="0" width="1" height="21" fill="#a0a0a0"/><rect x="300" y="0" width="1" height="21" fill="#fdfdfd"/>
<rect x="389" y="0" width="1" height="21" fill="#a0a0a0"/><rect x="390" y="0" width="1" height="21" fill="#fdfdfd"/>
<rect x="394" y="0" width="1" height="21" fill="#a0a0a0"/><rect x="395" y="0" width="1" height="21" fill="#fdfdfd"/>
<rect x="422" y="0" width="1" height="21" fill="#a0a0a0"/><rect x="423" y="0" width="1" height="21" fill="#fdfdfd"/>
<rect x="451" y="0" width="1" height="21" fill="#a0a0a0"/><rect x="452" y="0" width="1" height="21" fill="#fdfdfd"/>
<rect x="572" y="0" width="1" height="23" fill="#a0a0a0"/><rect x="573" y="0" width="1" height="23" fill="#fdfdfd"/>
<rect x="576" y="1" width="3" height="1" fill="#a6a6a6"/>
<rect x="576" y="3" width="3" height="1" fill="#a6a6a6"/>
<rect x="576" y="5" width="3" height="1" fill="#a6a6a6"/>
<rect x="576" y="7" width="3" height="1" fill="#a6a6a6"/>
<rect x="576" y="9" width="3" height="1" fill="#a6a6a6"/>
<rect x="576" y="11" width="3" height="1" fill="#a6a6a6"/>
<rect x="576" y="13" width="3" height="1" fill="#a6a6a6"/>
<rect x="576" y="15" width="3" height="1" fill="#a6a6a6"/>
<rect x="576" y="17" width="3" height="1" fill="#a6a6a6"/>
<rect x="576" y="19" width="3" height="1" fill="#a6a6a6"/>
<rect x="582" y="0" width="1" height="21" fill="#a0a0a0"/><rect x="583" y="0" width="1" height="21" fill="#fdfdfd"/>
<rect x="639" y="0" width="1" height="21" fill="#a0a0a0"/><rect x="640" y="0" width="1" height="21" fill="#fdfdfd"/>
<rect x="878" y="0" width="1" height="23" fill="#a0a0a0"/><rect x="879" y="0" width="1" height="23" fill="#fdfdfd"/>
<rect x="882" y="1" width="3" height="1" fill="#a6a6a6"/>
<rect x="882" y="3" width="3" height="1" fill="#a6a6a6"/>
<rect x="882" y="5" width="3" height="1" fill="#a6a6a6"/>
<rect x="882" y="7" width="3" height="1" fill="#a6a6a6"/>
<rect x="882" y="9" width="3" height="1" fill="#a6a6a6"/>
<rect x="882" y="11" width="3" height="1" fill="#a6a6a6"/>
<rect x="882" y="13" width="3" height="1" fill="#a6a6a6"/>
<rect x="882" y="15" width="3" height="1" fill="#a6a6a6"/>
<rect x="882" y="17" width="3" height="1" fill="#a6a6a6"/>
<rect x="882" y="19" width="3" height="1" fill="#a6a6a6"/>
<rect x="1028" y="0" width="1" height="21" fill="#a0a0a0"/><rect x="1029" y="0" width="1" height="21" fill="#fdfdfd"/>
<rect x="1139" y="0" width="1" height="21" fill="#a0a0a0"/><rect x="1140" y="0" width="1" height="21" fill="#fdfdfd"/>
<rect x="222" y="5" width="1" height="14" fill="#4d4d4d"/>
<rect x="220" y="16" width="14" height="1" fill="#4d4d4d"/>
<rect x="221" y="6" width="3" height="1" fill="#4d4d4d"/>
<rect x="232" y="15" width="1" height="3" fill="#4d4d4d"/>
<rect x="228" y="6" width="1" height="9" fill="#008a00"/><rect x="229" y="7" width="2" height="1" fill="#008a00"/><rect x="226" y="13" width="2" height="1" fill="#008a00"/>
<rect x="250" y="5" width="1" height="14" fill="#4d4d4d"/>
<rect x="248" y="16" width="14" height="1" fill="#4d4d4d"/>
<rect x="249" y="6" width="3" height="1" fill="#4d4d4d"/>
<rect x="260" y="15" width="1" height="3" fill="#4d4d4d"/>
<rect x="256" y="3" width="1" height="12" fill="#008a00"/><rect x="254" y="5" width="5" height="8" fill="#009a00"/><rect x="255" y="6" width="3" height="6" fill="#5be872"/>
<rect x="278" y="5" width="1" height="14" fill="#4d4d4d"/>
<rect x="276" y="16" width="14" height="1" fill="#4d4d4d"/>
<rect x="277" y="6" width="3" height="1" fill="#4d4d4d"/>
<rect x="288" y="15" width="1" height="3" fill="#4d4d4d"/>
<rect x="402" y="5" width="1" height="14" fill="#4d4d4d"/>
<rect x="400" y="16" width="14" height="1" fill="#4d4d4d"/>
<rect x="401" y="6" width="3" height="1" fill="#4d4d4d"/>
<rect x="412" y="15" width="1" height="3" fill="#4d4d4d"/>
<rect x="430" y="5" width="1" height="14" fill="#4d4d4d"/>
<rect x="428" y="16" width="14" height="1" fill="#4d4d4d"/>
<rect x="429" y="6" width="3" height="1" fill="#4d4d4d"/>
<rect x="440" y="15" width="1" height="3" fill="#4d4d4d"/>
<rect x="436" y="5" width="1" height="10" fill="#1a6a9a"/>
<rect x="615" y="11" width="6" height="1" fill="#404040"/><rect x="624" y="11" width="6" height="1" fill="#404040"/><rect x="622" y="4" width="1" height="6" fill="#404040"/><rect x="622" y="13" width="1" height="6" fill="#404040"/><rect x="622" y="11" width="1" height="1" fill="#8a7a5a"/>
<rect x="656" y="5" width="1" height="13" fill="#404040"/>
<rect x="679" y="11" width="12" height="1" fill="#404040"/>
<rect x="762" y="4" width="1" height="1" fill="#555"/>
<rect x="764" y="4" width="1" height="1" fill="#555"/>
<rect x="766" y="4" width="1" height="1" fill="#555"/>
<rect x="768" y="4" width="1" height="1" fill="#555"/>
<rect x="770" y="4" width="1" height="1" fill="#555"/>
<rect x="772" y="4" width="1" height="1" fill="#555"/>
<rect x="774" y="4" width="1" height="1" fill="#555"/>
<rect x="762" y="7" width="1" height="1" fill="#555"/>
<rect x="764" y="7" width="1" height="1" fill="#555"/>
<rect x="766" y="7" width="1" height="1" fill="#555"/>
<rect x="768" y="7" width="1" height="1" fill="#555"/>
<rect x="770" y="7" width="1" height="1" fill="#555"/>
<rect x="772" y="7" width="1" height="1" fill="#555"/>
<rect x="774" y="7" width="1" height="1" fill="#555"/>
<rect x="762" y="11" width="1" height="1" fill="#555"/>
<rect x="764" y="11" width="1" height="1" fill="#555"/>
<rect x="766" y="11" width="1" height="1" fill="#555"/>
<rect x="768" y="11" width="1" height="1" fill="#555"/>
<rect x="770" y="11" width="1" height="1" fill="#555"/>
<rect x="772" y="11" width="1" height="1" fill="#555"/>
<rect x="774" y="11" width="1" height="1" fill="#555"/>
<rect x="762" y="15" width="1" height="1" fill="#555"/>
<rect x="764" y="15" width="1" height="1" fill="#555"/>
<rect x="766" y="15" width="1" height="1" fill="#555"/>
<rect x="768" y="15" width="1" height="1" fill="#555"/>
<rect x="770" y="15" width="1" height="1" fill="#555"/>
<rect x="819" y="5" width="1" height="1" fill="#555"/><rect x="819" y="17" width="1" height="1" fill="#555"/>
<rect x="821" y="5" width="1" height="1" fill="#555"/><rect x="821" y="17" width="1" height="1" fill="#555"/>
<rect x="823" y="5" width="1" height="1" fill="#555"/><rect x="823" y="17" width="1" height="1" fill="#555"/>
<rect x="825" y="5" width="1" height="1" fill="#555"/><rect x="825" y="17" width="1" height="1" fill="#555"/>
<rect x="827" y="5" width="1" height="1" fill="#555"/><rect x="827" y="17" width="1" height="1" fill="#555"/>
<rect x="829" y="5" width="1" height="1" fill="#555"/><rect x="829" y="17" width="1" height="1" fill="#555"/>
<rect x="830" y="5" width="1" height="1" fill="#555"/><rect x="830" y="17" width="1" height="1" fill="#555"/>
<rect x="819" y="7" width="1" height="1" fill="#555"/><rect x="830" y="7" width="1" height="1" fill="#555"/>
<rect x="819" y="9" width="1" height="1" fill="#555"/><rect x="830" y="9" width="1" height="1" fill="#555"/>
<rect x="819" y="11" width="1" height="1" fill="#555"/><rect x="830" y="11" width="1" height="1" fill="#555"/>
<rect x="819" y="13" width="1" height="1" fill="#555"/><rect x="830" y="13" width="1" height="1" fill="#555"/>
<rect x="819" y="15" width="1" height="1" fill="#555"/><rect x="830" y="15" width="1" height="1" fill="#555"/>
<rect x="818" y="4" width="2" height="1" fill="#555"/>
<rect x="364" y="3" width="8" height="8" fill="#3a9a14"/>
<rect x="365" y="6" width="6" height="4" fill="#fff"/>
<rect x="366" y="7" width="4" height="1" fill="#a8dc90"/>
<rect x="367" y="9" width="2" height="1" fill="#3a9a14"/>
<rect x="365" y="4" width="1" height="1" fill="#fff"/>
<rect x="372" y="3" width="8" height="8" fill="#1446c8"/>
<rect x="373" y="6" width="6" height="4" fill="#fff"/>
<rect x="374" y="7" width="4" height="1" fill="#7aa0f0"/>
<rect x="375" y="9" width="2" height="1" fill="#1446c8"/>
<rect x="373" y="4" width="1" height="1" fill="#fff"/>
<rect x="364" y="11" width="8" height="8" fill="#1446c8"/>
<rect x="365" y="14" width="6" height="4" fill="#fff"/>
<rect x="366" y="15" width="4" height="1" fill="#7aa0f0"/>
<rect x="367" y="17" width="2" height="1" fill="#1446c8"/>
<rect x="365" y="12" width="1" height="1" fill="#fff"/>
<rect x="372" y="11" width="8" height="8" fill="#3a9a14"/>
<rect x="373" y="14" width="6" height="4" fill="#fff"/>
<rect x="374" y="15" width="4" height="1" fill="#a8dc90"/>
<rect x="375" y="17" width="2" height="1" fill="#3a9a14"/>
<rect x="373" y="12" width="1" height="1" fill="#fff"/>
</g>
<path d="M462,3.5 h7.4 l3.1,3.1 v9.2 q0,0.8 -0.8,0.8 h-9.4 q-0.8,0 -0.8,-0.8 v-11.5 q0,-0.8 0.5,-0.8 z" fill="#fff" stroke="#8c8c8c" stroke-width="1"/><path d="M469.4,3.6 v3 h3" fill="none" stroke="#8c8c8c"/>
<path d="M466.3,6.3 q-1.8,0.2 -1.8,1.6 v5.8 M464.5,9.6 h1.8" fill="none" stroke="#5a5040" stroke-width="0.9"/>
<path d="M469.5,9.5 h3 v4 h4 v3 h-4 v4 h-3 v-4 h-4 v-3 h4 z" fill="#1fe03a" stroke="#0a8a0a" stroke-width="1"/>
<polygon points="483,10 488.4,10 485.7,13" fill="#000" shape-rendering="auto"/>
<polygon points="522,10 527.4,10 524.7,13" fill="#000" shape-rendering="auto"/>
<polygon points="561,10 566.4,10 563.7,13" fill="#000" shape-rendering="auto"/>
<polygon points="867,10 872.4,10 869.7,13" fill="#000" shape-rendering="auto"/>
<path d="M277,13.6 C280,12 281,8.2 283.2,8.2 C285.4,8.2 286.4,11.4 289,12.2" fill="none" stroke="#2a9a2a" stroke-width="1.15"/>
<path d="M407.4,7.6 L410.6,10.5 L407.4,13.4 Z" fill="#7dff8a" stroke="#00a000" stroke-width="1.1" stroke-linejoin="round"/>
<path d="M437.6,10.5 h4.6 M437.8,10.5 l2.6,-2.2 M437.8,10.5 l2.6,2.2" fill="none" stroke="#9a2a00" stroke-width="1.2"/><path d="M438.2,10.5 l2.2,-1.2 v2.4 z" fill="#ff7a10"/>
<line x1="706.8" y1="18" x2="719" y2="6" stroke="#505050" stroke-width="1"/>
<path d="M732.7,12.6 L741.2,4.4 M738,17.9 L747.2,9" stroke="#404040" stroke-width="1" fill="none"/>
<path d="M736.6,9.6 L734.6,17.4 M740.8,6 L738.6,14.8 M744.8,2.8 L743,10.8" stroke="#404040" stroke-width="1.1" fill="none"/>
<path d="M733.6,14.2 l3,1.6 M735,11.4 l3.6,2.2 M738.2,9 l3.4,2 M740.4,6.6 l3.6,2 M743.4,4.6 l2.6,1.4" stroke="#404040" stroke-width="0.8" fill="none"/>
<line x1="318.1" y1="13.4" x2="322.7" y2="17.6" stroke="#9a6a10" stroke-width="4" stroke-linecap="butt"/>
<line x1="318.5" y1="13.6" x2="322.3" y2="17.2" stroke="#f0d030" stroke-width="2.2"/>
<circle cx="314.1" cy="9" r="5.7" fill="#d6eefc" stroke="#2a70c4" stroke-width="1.3"/>
<rect x="310.6" y="8.2" width="7" height="1.7" fill="#4a8fb6"/>
<rect x="313.25" y="5.5" width="1.7" height="7" fill="#4a8fb6"/>
<line x1="346" y1="13.4" x2="350.6" y2="17.6" stroke="#9a6a10" stroke-width="4" stroke-linecap="butt"/>
<line x1="346.4" y1="13.6" x2="350.2" y2="17.2" stroke="#f0d030" stroke-width="2.2"/>
<circle cx="342" cy="9" r="5.7" fill="#d6eefc" stroke="#2a70c4" stroke-width="1.3"/>
<rect x="338.5" y="8.2" width="7" height="1.7" fill="#4a8fb6"/>
<defs><linearGradient id="gb" x1="0" y1="0" x2="1" y2="1"><stop offset="0" stop-color="#f7d84a"/><stop offset="0.6" stop-color="#e8b010"/><stop offset="1" stop-color="#c88a10"/></linearGradient>
<linearGradient id="gc" x1="0" y1="0" x2="0" y2="1"><stop offset="0" stop-color="#ffffff"/><stop offset="1" stop-color="#c4cee6"/></linearGradient>
<linearGradient id="gs" x1="0" y1="0" x2="1" y2="0"><stop offset="0" stop-color="#0a96f5"/><stop offset="1" stop-color="#2aa6ff"/></linearGradient>
<radialGradient id="gr" cx="0.35" cy="0.3" r="0.8"><stop offset="0" stop-color="#f0683c"/><stop offset="1" stop-color="#d42010"/></radialGradient>
<linearGradient id="gk" x1="0" y1="0" x2="0" y2="1"><stop offset="0" stop-color="#2a8ae8"/><stop offset="1" stop-color="#0a4a9a"/></linearGradient>
<linearGradient id="gw" x1="0" y1="1" x2="1" y2="0"><stop offset="0" stop-color="#2a9a2a"/><stop offset="1" stop-color="#d8ecd8"/></linearGradient>
<linearGradient id="gy" x1="0" y1="0" x2="1" y2="1"><stop offset="0" stop-color="#f8e060"/><stop offset="1" stop-color="#e0a818"/></linearGradient>
</defs>
<path d="M50.2,4.2 L60.3,12.1 L60.5,13.6 L52.6,18.6 L45.1,13.8 L45.1,12.2 Q48.6,9.4 50.2,4.2 Z" fill="#b8862a" stroke="#9a5e10" stroke-width="1.1" stroke-linejoin="round"/>
<path d="M50.3,4.6 L59.8,11.9 L52.2,16.6 L45.5,12.3 Q48.8,9.4 50.3,4.6 Z" fill="url(#gb)"/>
<path d="M45.4,12.6 L52.3,16.9 L52.5,18.2 L45.4,13.7 Z" fill="#f2cc4a"/>
<path d="M52.6,17 L60,12.4 L60.1,13.4 L52.8,18.1 Z" fill="#c9b070"/>
<path d="M46,12.6 L52.3,16.5" fill="none" stroke="#fbe89a" stroke-width="0.7"/>
<path d="M75.2,4.2 L79,3.1 L86,4.4 L86,12.2 L75.2,12.2 Z" fill="#1a9cff" stroke="#1488ee" stroke-width="0.5"/>
<path d="M75.2,4.2 L78.6,6 L78.6,12.2 L75.2,12.2 Z" fill="#0a8cf2"/>
<path d="M75.2,4.2 L79,3.1 L86,4.4 L86,5.3 L78.6,6 Z" fill="#45aefc"/>
<path d="M75.4,4.4 L78.6,6.1 L78.6,12" fill="none" stroke="#e6f5ff" stroke-width="0.8"/><path d="M80.4,8.6 L84.6,7.6" stroke="#eef8ff" stroke-width="1.3"/><path d="M79.6,10.4 h5.6" stroke="#8fd0ff" stroke-width="0.8"/>
<path d="M75.6,18.4 C72.4,18.4 72.2,14.2 75.3,13.8 C75.5,11.4 78.7,10.8 80.1,12.5 C81.5,10.3 85.5,10.8 85.7,13.5 C89.6,13.1 90,18.4 86.4,18.4 Z" fill="url(#gc)" stroke="#3f5f9f" stroke-width="1.2" stroke-linejoin="round"/>
<path d="M109,10.8 L109,18.8 A8,8 0 0 0 111.8,3.4 Z" fill="url(#gw)" opacity="0.75"/>
<circle cx="109" cy="10.8" r="2.9" fill="none" stroke="#3a68d0" stroke-width="1.1" opacity="0.45"/>
<circle cx="109" cy="10.8" r="5.3" fill="none" stroke="#3a68d0" stroke-width="1.2" opacity="0.4"/>
<circle cx="109" cy="10.8" r="7.6" fill="none" stroke="#3a68d0" stroke-width="1.3" opacity="0.5"/>
<path d="M109,18.4 A7.6,7.6 0 0 0 114.8,5.9" fill="none" stroke="#3f8f5a" stroke-width="1.3" opacity="0.6"/>
<line x1="109.7" y1="11" x2="109.7" y2="18.8" stroke="#22a022" stroke-width="1.4"/><circle cx="109" cy="10.7" r="1.7" fill="#2456d4"/>
<path d="M128.4,10.4 L143.8,9.6 L143.4,13.6 L137.6,18.8 L135.2,17.8 Z" fill="url(#gy)" stroke="#c89a18" stroke-width="0.8" stroke-linejoin="round"/>
<g transform="rotate(-7 136 7.6)"><ellipse cx="136" cy="8.1" rx="7.7" ry="2.3" fill="#58a8d6" stroke="#2f80ae" stroke-width="0.9"/><ellipse cx="135.9" cy="6.2" rx="3.8" ry="2.6" fill="#6ab6e2" stroke="#2f80ae" stroke-width="0.7"/><ellipse cx="135.2" cy="5.4" rx="1.8" ry="1" fill="#a6d8f4"/></g>
<circle cx="140.4" cy="14.7" r="4.1" fill="url(#gr)"/><rect x="138.9" y="13.2" width="3" height="3" fill="#fff"/>
<circle cx="507" cy="10.8" r="6.7" fill="#fdfdfd" stroke="url(#gk)" stroke-width="2.7"/>
<line x1="511.00" y1="10.80" x2="511.90" y2="10.80" stroke="#9aa4b4" stroke-width="0.6"/>
<line x1="510.46" y1="12.80" x2="511.24" y2="13.25" stroke="#9aa4b4" stroke-width="0.6"/>
<line x1="509.00" y1="14.26" x2="509.45" y2="15.04" stroke="#9aa4b4" stroke-width="0.6"/>
<line x1="507.00" y1="14.80" x2="507.00" y2="15.70" stroke="#9aa4b4" stroke-width="0.6"/>
<line x1="505.00" y1="14.26" x2="504.55" y2="15.04" stroke="#9aa4b4" stroke-width="0.6"/>
<line x1="503.54" y1="12.80" x2="502.76" y2="13.25" stroke="#9aa4b4" stroke-width="0.6"/>
<line x1="503.00" y1="10.80" x2="502.10" y2="10.80" stroke="#9aa4b4" stroke-width="0.6"/>
<line x1="503.54" y1="8.80" x2="502.76" y2="8.35" stroke="#9aa4b4" stroke-width="0.6"/>
<line x1="505.00" y1="7.34" x2="504.55" y2="6.56" stroke="#9aa4b4" stroke-width="0.6"/>
<line x1="507.00" y1="6.80" x2="507.00" y2="5.90" stroke="#9aa4b4" stroke-width="0.6"/>
<line x1="509.00" y1="7.34" x2="509.45" y2="6.56" stroke="#9aa4b4" stroke-width="0.6"/>
<line x1="510.46" y1="8.80" x2="511.24" y2="8.35" stroke="#9aa4b4" stroke-width="0.6"/>
<path d="M506.6,7.4 L507,11 L510,11" fill="none" stroke="#222" stroke-width="1.2"/><circle cx="507" cy="14.8" r="0.7" fill="#6aa8f0"/>
<rect x="538.5" y="4.5" width="15" height="13" fill="#fff" stroke="#3a70c0" stroke-width="1"/><rect x="539" y="5" width="14" height="2" fill="#5a94d8"/><rect x="539" y="12" width="14" height="1" fill="#5a88cc"/>
<path d="M540.5,10.5 h2 l1.5,-1 h1.5 l1.5,-1 l1.5,1 h1.5 l1.5,-1" fill="none" stroke="#a02000" stroke-width="1.1"/>
<path d="M541,15.5 h1.5 l1.5,-1 l1.500,1 h1.5 l2,-2 l2,2.2" fill="none" stroke="#109020" stroke-width="1.1"/>
<path d="M590.3,3.9 L590.3,15 L592.8,12.6 L595,18 L597,17.2 L594.8,12 L598.2,11.6 Z" fill="#4d4d4d"/>
<path d="M849.5,4.8 L853.2,8 L849.5,10.2 L845.8,8 Z" fill="#4d4d4d"/><path d="M856.5,18 L852.8,14.6 L856.5,12.8 L860.2,14.6 Z" fill="#4d4d4d"/><path d="M848,12.6 L850.4,14.8 L855,9.4" fill="none" stroke="#4d4d4d" stroke-width="1.4"/>
<line x1="1606.6" y1="11.6" x2="1602" y2="15.8" stroke="#1a50c8" stroke-width="2.2" stroke-linecap="round"/><circle cx="1609.6" cy="8.7" r="4" fill="none" stroke="#2a5ad8" stroke-width="1.3"/>
<path d="M1627,13 C1627,8 1637,8 1637,13 C1637,17 1633,18 1630.6,17.6 L1629,19.6 L1629,17.2 C1627.6,16.4 1627,15 1627,13 Z" fill="url(#gchat)" stroke="#a4a6b0" stroke-width="0.9"/>
<defs><linearGradient id="gchat" x1="0" y1="0" x2="0" y2="1"><stop offset="0" stop-color="#fafafc"/><stop offset="1" stop-color="#cfd2e4"/></linearGradient></defs>
<defs><linearGradient id="gbad" x1="0" y1="0" x2="0" y2="1"><stop offset="0" stop-color="#e85030"/><stop offset="1" stop-color="#d42414"/></linearGradient></defs>
<circle cx="1640.6" cy="8.4" r="8.3" fill="url(#gbad)"/>
<g font-family="'Liberation Sans','Noto Sans CJK SC',sans-serif">
<text x="-3" y="14.1" font-size="12" fill="#000" stroke="#000" stroke-width="0.15">新订单</text>
<text x="148.9" y="14.1" font-size="12" fill="#000" stroke="#000" stroke-width="0.15">自动交易</text>
<text x="893.5" y="15" font-size="10.3" fill="#3a3a3a" stroke="#3a3a3a" stroke-width="0.15" textLength="12.5" lengthAdjust="spacingAndGlyphs">M1</text>
<text x="921.4" y="15" font-size="10.3" fill="#3a3a3a" stroke="#3a3a3a" stroke-width="0.15" textLength="12.6" lengthAdjust="spacingAndGlyphs">M5</text>
<text x="947.5" y="15" font-size="10.3" fill="#3a3a3a" stroke="#3a3a3a" stroke-width="0.15" textLength="18" lengthAdjust="spacingAndGlyphs">M15</text>
<text x="975.6" y="15" font-size="10.3" fill="#3a3a3a" stroke="#3a3a3a" stroke-width="0.15" textLength="17.5" lengthAdjust="spacingAndGlyphs">M30</text>
<text x="1006.5" y="15" font-size="10.3" fill="#3a3a3a" stroke="#3a3a3a" stroke-width="0.15" textLength="11.5" lengthAdjust="spacingAndGlyphs">H1</text>
<text x="1033.5" y="15" font-size="10.3" fill="#3a3a3a" stroke="#3a3a3a" stroke-width="0.15" textLength="12.5" lengthAdjust="spacingAndGlyphs">H4</text>
<text x="1062.5" y="15" font-size="10.3" fill="#3a3a3a" stroke="#3a3a3a" stroke-width="0.15" textLength="11.5" lengthAdjust="spacingAndGlyphs">D1</text>
<text x="1090" y="15" font-size="10.3" fill="#3a3a3a" stroke="#3a3a3a" stroke-width="0.15" textLength="13.8" lengthAdjust="spacingAndGlyphs">W1</text>
<text x="1116" y="15" font-size="10.3" fill="#3a3a3a" stroke="#3a3a3a" stroke-width="0.15" textLength="15" lengthAdjust="spacingAndGlyphs">MN</text>
<text x="792.9" y="15.8" font-size="12.2" fill="#4d4d4d" stroke="#4d4d4d" stroke-width="0.5" textLength="7.5" lengthAdjust="spacingAndGlyphs">A</text>
<text x="820.6" y="15.8" font-size="11" font-weight="bold" fill="#4d4d4d" textLength="8.6" lengthAdjust="spacingAndGlyphs">T</text>
<text x="743.6" y="20" font-size="7" font-weight="bold" fill="#333">E</text>
<text x="771.8" y="20" font-size="7" font-weight="bold" fill="#333">F</text>
<text x="1640.4" y="13" font-size="11.6" fill="#fff" stroke="#fff" stroke-width="0.25" text-anchor="middle">1</text>
</g>
</svg>
</body></html>
